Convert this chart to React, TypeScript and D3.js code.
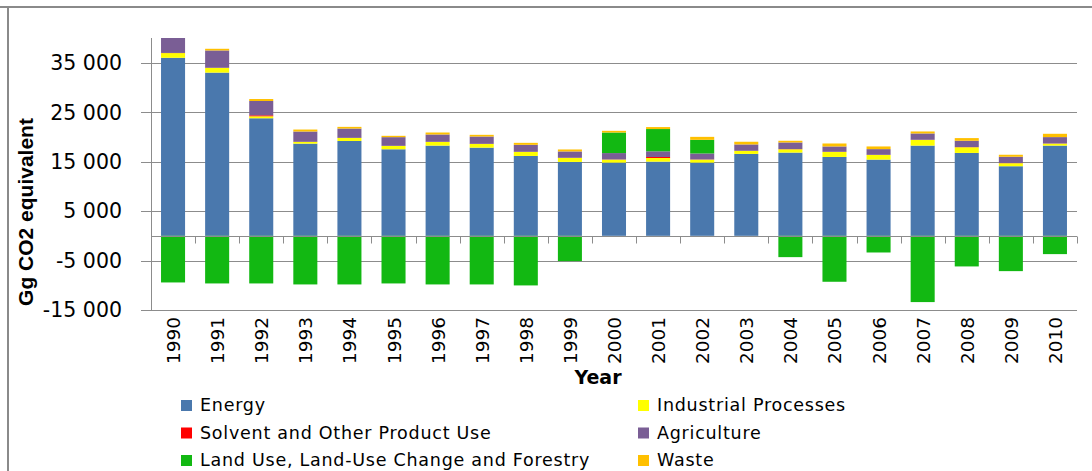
import * as d3 from "d3";
import { useEffect, useRef } from "react";

// values, Gg CO2 equivalent
const years = [
  "1990", "1991", "1992", "1993", "1994", "1995", "1996", "1997", "1998", "1999", "2000",
  "2001", "2002", "2003", "2004", "2005", "2006", "2007", "2008", "2009", "2010",
];
const energy = [
  36000, 33000, 23770, 18640, 19180, 17500, 18240, 17830, 16150, 14940, 14800,
  15000, 14800, 16560, 16830, 15950, 15410, 18240, 16760, 14070, 18240,
];
const industrial = [
  950, 950, 400, 340, 600, 670, 740, 740, 810, 810, 610,
  740, 610, 610, 670, 1010, 940, 1150, 1150, 610, 400,
];
const solvent = [
  30, 30, 200, 30, 30, 30, 30, 30, 30, 30, 30,
  200, 30, 30, 30, 30, 30, 30, 30, 30, 30,
];
const agriculture = [
  3200, 3500, 2890, 2080, 1880, 1750, 1480, 1480, 1410, 1280, 1290,
  1150, 1210, 1280, 1350, 1080, 1150, 1280, 1280, 1280, 1290,
];
const lulucf = [
  -9430, -9630, -9630, -9830, -9830, -9630, -9830, -9830, -10030, -5110, 4160,
  4500, 2760, 0, -4310, -9290, -3370, -13400, -6190, -7140, -3700,
];
const waste = [
  200, 340, 400, 400, 340, 270, 400, 340, 400, 400, 340,
  400, 600, 540, 340, 600, 540, 400, 540, 400, 670,
];

const seriesNames = [
  "Energy",
  "Industrial Processes",
  "Solvent and Other Product Use",
  "Agriculture",
  "Land Use, Land-Use Change and Forestry",
  "Waste",
];
const seriesColors = ["#4a78ad", "#ffff00", "#ff0000", "#7a5e95", "#12b812", "#ffc000"];
const yTicks = [-15000, -5000, 5000, 15000, 25000, 35000];

export default function App() {
  const svgRef = useRef<SVGSVGElement>(null);

  useEffect(() => {
    if (!svgRef.current) return;
    const svg = d3.select(svgRef.current);
    svg.selectAll("*").remove();

    const left = 151;
    const right = 1077;
    const top = 38;
    const bottom = 310;
    const axisColor = "#8c8c8c";

    const fmt = d3
      .formatLocale({ decimal: ".", thousands: " ", grouping: [3], currency: ["", ""], minus: "-" })
      .format(",");

    const x = d3
      .scaleBand<string>()
      .domain(years)
      .range([left, right])
      .paddingInner(0.455)
      .paddingOuter(0.2275);

    const y = d3.scaleLinear().domain([-15000, 40000]).range([bottom, top]);
    const py = (v: number) => Math.round(y(v)) + 0.5;

    // frame
    svg
      .append("path")
      .attr("d", "M0,7H1092M8,7V471")
      .attr("stroke", "#8a8a8a")
      .attr("stroke-width", 2)
      .attr("fill", "none");

    // gridlines + y ticks
    svg
      .append("g")
      .selectAll("line")
      .data(yTicks)
      .join("line")
      .attr("x1", left - 10)
      .attr("x2", right)
      .attr("y1", (d) => py(d))
      .attr("y2", (d) => py(d))
      .attr("stroke", axisColor)
      .attr("stroke-width", 1);

    svg
      .append("g")
      .selectAll("text")
      .data(yTicks)
      .join("text")
      .attr("x", 122)
      .attr("y", (d) => y(d))
      .attr("dy", "0.36em")
      .attr("text-anchor", "end")
      .attr("font-family", "DejaVu Sans")
      .attr("font-size", 20.5)
      .attr("fill", "#000")
      .text((d) => fmt(d));

    // stacked bars
    const rows = years.map((yr, i) => ({
      year: yr,
      s0: energy[i],
      s1: industrial[i],
      s2: solvent[i],
      s3: agriculture[i],
      s4: lulucf[i],
      s5: waste[i],
    }));
    const keys = ["s0", "s1", "s2", "s3", "s4", "s5"];
    const layers = d3
      .stack<any>()
      .keys(keys)
      .offset(d3.stackOffsetDiverging)(rows);

    svg
      .append("clipPath")
      .attr("id", "plotclip")
      .append("rect")
      .attr("x", left)
      .attr("y", top)
      .attr("width", right - left)
      .attr("height", bottom - top);

    const bw = x.bandwidth();
    svg
      .append("g")
      .attr("clip-path", "url(#plotclip)")
      .selectAll("g")
      .data(layers)
      .join("g")
      .attr("fill", (_, i) => seriesColors[i])
      .selectAll("rect")
      .data((d) => d)
      .join("rect")
      .attr("x", (d) => x(d.data.year)!)
      .attr("width", bw)
      .attr("y", (d) => y(Math.max(d[0], d[1])))
      .attr("height", (d) => Math.abs(y(d[0]) - y(d[1])));

    // category axis at zero
    const zy = py(0);
    svg
      .append("line")
      .attr("x1", left)
      .attr("x2", right)
      .attr("y1", zy)
      .attr("y2", zy)
      .attr("stroke", axisColor);
    const step = x.step();
    svg
      .append("g")
      .selectAll("line")
      .data(d3.range(1, years.length + 1))
      .join("line")
      .attr("x1", (k) => Math.round(left + step * k) + 0.5)
      .attr("x2", (k) => Math.round(left + step * k) + 0.5)
      .attr("y1", zy)
      .attr("y2", zy + 7)
      .attr("stroke", axisColor);

    // value axis line
    svg
      .append("line")
      .attr("x1", left + 0.5)
      .attr("x2", left + 0.5)
      .attr("y1", top)
      .attr("y2", bottom + 1)
      .attr("stroke", axisColor);

    // year labels
    svg
      .append("g")
      .selectAll("text")
      .data(years)
      .join("text")
      .attr("transform", (d) => `translate(${x(d)! + bw / 2 + 7},${bottom + 7}) rotate(-90)`)
      .attr("text-anchor", "end")
      .attr("font-family", "DejaVu Sans")
      .attr("font-size", 18.5)
      .attr("fill", "#000")
      .text((d) => d);

    svg
      .append("text")
      .attr("x", 598)
      .attr("y", 384)
      .attr("text-anchor", "middle")
      .attr("font-family", "DejaVu Sans")
      .attr("font-weight", "bold")
      .attr("font-size", 19)
      .text("Year");

    svg
      .append("text")
      .attr("transform", "translate(33,212) rotate(-90)")
      .attr("text-anchor", "middle")
      .attr("font-family", "Liberation Sans")
      .attr("font-weight", "bold")
      .attr("font-size", 21)
      .text("Gg CO2 equivalent");

    // legend
    const legend = svg
      .append("g")
      .selectAll("g")
      .data(seriesNames)
      .join("g")
      .attr("transform", (_, i) => `translate(${i % 2 === 0 ? 181 : 638},${400 + Math.floor(i / 2) * 27.5})`);
    legend
      .append("rect")
      .attr("width", 11)
      .attr("height", 11)
      .attr("fill", (_, i) => seriesColors[i]);
    legend
      .append("text")
      .attr("x", 19)
      .attr("y", 11)
      .attr("font-family", "DejaVu Sans")
      .attr("font-size", 17.5)
      .attr("letter-spacing", 0.75)
      .attr("fill", "#000")
      .text((d) => d);

    return () => {
      svg.selectAll("*").remove();
    };
  }, []);

  return (
    <div style={{ position: "absolute", left: 0, top: 0 }}>
      <svg ref={svgRef} width={1092} height={471} style={{ display: "block", background: "#fff" }} />
    </div>
  );
}
